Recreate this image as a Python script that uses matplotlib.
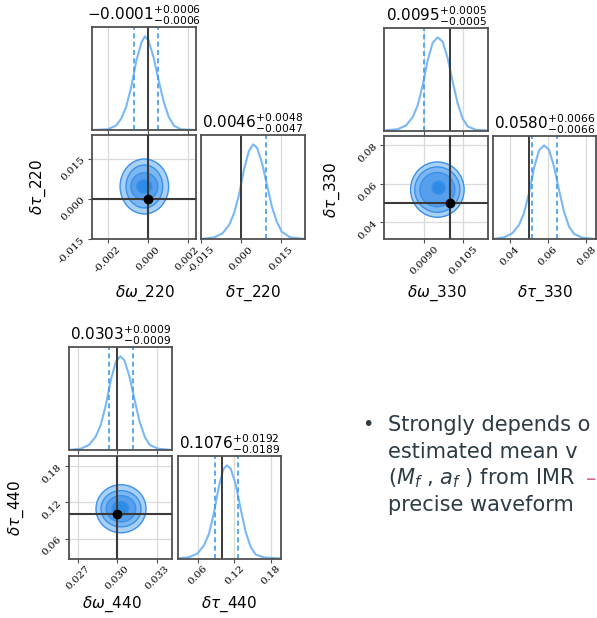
import matplotlib
matplotlib.use("Agg")
import matplotlib.pyplot as plt
from matplotlib.patches import Ellipse

plt.rcParams["axes.unicode_minus"] = False
plt.rcParams["font.family"] = ["DejaVu Sans"]

W, H = 597, 618

# ---- data ----
mode_names = ["220", "330", "440"]

# medians and errors shown in the titles: (median, minus, plus)
omega_stats = [(-0.0001, 0.0006, 0.0006), (0.0095, 0.0005, 0.0005), (0.0303, 0.0009, 0.0009)]
tau_stats = [(0.0046, 0.0047, 0.0048), (0.0580, 0.0066, 0.0066), (0.1076, 0.0189, 0.0192)]
omega_titles = ["-0.0001", "0.0095", "0.0303"]
tau_titles = ["0.0046", "0.0580", "0.1076"]
omega_err_txt = [("0.0006", "0.0006"), ("0.0005", "0.0005"), ("0.0009", "0.0009")]
tau_err_txt = [("0.0048", "0.0047"), ("0.0066", "0.0066"), ("0.0192", "0.0189")]

omega_truth = [0.0, 0.0100, 0.030]
tau_truth = [0.0, 0.050, 0.100]

omega_lims = [(-0.0028, 0.0024), (0.00746, 0.01146), (0.02633, 0.03413)]
tau_lims = [(-0.015, 0.0238), (0.0313, 0.0849), (0.0269, 0.1967)]

omega_ticks = [[-0.002, 0.0, 0.002], [0.0090, 0.0105], [0.027, 0.030, 0.033]]
omega_ticklabels = [["-0.002", "0.000", "0.002"], ["0.0090", "0.0105"], ["0.027", "0.030", "0.033"]]
tau_ticks = [[-0.015, 0.0, 0.015], [0.04, 0.06, 0.08], [0.06, 0.12, 0.18]]
tau_ticklabels = [["-0.015", "0.000", "0.015"], ["0.04", "0.06", "0.08"], ["0.06", "0.12", "0.18"]]

# 1D marginal curves (x, normalised height)
omega_x = [
    [-0.00284, -0.00202, -0.00160, -0.00134, -0.00109, -0.00083, -0.00057, -0.00031,
     -0.00014, 0.00004, 0.00029, 0.00055, 0.00081, 0.00106, 0.00132, 0.00166, 0.00246],
    [0.007463, 0.007976, 0.008296, 0.008553, 0.008745, 0.008937, 0.00913, 0.009322,
     0.009514, 0.009707, 0.009899, 0.010091, 0.010283, 0.010476, 0.010668, 0.010988, 0.011463],
    [0.02633, 0.02721, 0.02785, 0.02836, 0.02874, 0.02913, 0.02951, 0.02990,
     0.03023, 0.03054, 0.03092, 0.03131, 0.03169, 0.03208, 0.03246, 0.0331, 0.03413],
]
omega_y = [
    [0, 0.007, 0.046, 0.118, 0.243, 0.457, 0.743, 0.939, 1.0, 0.957, 0.779, 0.529, 0.296,
     0.136, 0.046, 0.007, 0],
    [0, 0.014, 0.054, 0.144, 0.27, 0.486, 0.755, 0.942, 1.0, 0.953, 0.773, 0.522, 0.288,
     0.126, 0.043, 0.007, 0],
    [0, 0.014, 0.054, 0.143, 0.268, 0.482, 0.75, 0.946, 1.0, 0.957, 0.786, 0.536, 0.304,
     0.143, 0.054, 0.014, 0],
]
tau_x = [
    [-0.015, -0.0101, -0.00703, -0.00456, -0.0027, -0.00085, 0.001, 0.00284, 0.00444,
     0.00592, 0.00777, 0.00962, 0.01147, 0.01332, 0.01517, 0.01826, 0.0238],
    [0.0313, 0.03702, 0.04137, 0.04486, 0.04747, 0.05008, 0.05269, 0.0553, 0.05791,
     0.06052, 0.06313, 0.06574, 0.06836, 0.07097, 0.07358, 0.07793, 0.0849],
    [0.0269, 0.04512, 0.0589, 0.06992, 0.07818, 0.08645, 0.09471, 0.10187, 0.10738,
     0.11399, 0.12226, 0.13052, 0.13879, 0.14705, 0.15532, 0.16909, 0.1967],
]
tau_y = [
    [0, 0.018, 0.06, 0.149, 0.273, 0.468, 0.734, 0.929, 1.0, 0.965, 0.805, 0.574, 0.344,
     0.184, 0.078, 0.018, 0],
    [0, 0.018, 0.061, 0.15, 0.275, 0.489, 0.757, 0.946, 1.0, 0.954, 0.775, 0.525, 0.293,
     0.132, 0.054, 0.014, 0],
    [0, 0.014, 0.053, 0.142, 0.266, 0.496, 0.78, 0.957, 1.0, 0.965, 0.798, 0.532, 0.284,
     0.124, 0.043, 0.011, 0],
]

# 2D contours: centre and half-widths of each level (outer -> inner)
contour_centers = [(-0.00017, 0.0046), (0.0095, 0.057), (0.03028, 0.1093)]
core_centers = [(-0.00017, 0.0046), (0.00955, 0.058), (0.03023, 0.110)]
contour_rx = [[0.00122, 0.00092, 0.00068, 0.00038],
              [0.00103, 0.00087, 0.00067, 0.00025],
              [0.0019, 0.00152, 0.00112, 0.00063]]
contour_ry = [[0.01025, 0.0080, 0.0051, 0.0025],
              [0.0144, 0.0118, 0.0089, 0.0034],
              [0.0398, 0.030, 0.0218, 0.0115]]

# pixel boxes of the three corner plots: top-hist, 2D, right-hist
boxes = [
    [(92, 27, 195.5, 130), (92, 135, 195.5, 239), (201.3, 135, 304.7, 239)],
    [(384.3, 28, 488.3, 130.5), (384.3, 136, 488.3, 239), (493, 136, 595.7, 239)],
    [(69, 347, 171.7, 450), (69, 456, 171.7, 558.5), (178, 456, 280.7, 558.5)],
]
xlabel_pos = [[(145, 293), (253, 293)], [(437, 293), (545, 293)], [(112, 604), (229, 604)]]
ylabel_pos = [(38, 187), (332, 190), (16, 508)]

line_col = "#7ab8f5"
dash_col = "#3d9bf0"
fill_cols = ["#a9d0f6", "#7db7f1", "#559fec", "#2f8be8"]
edge_col = "#3b91ea"
frame_col = "#505050"
truth_col = "#3a3a3a"
grid_col = "#d9d9d9"
tick_font = dict(family="DejaVu Serif", size=7.5)

fig = plt.figure(figsize=(W / 100, H / 100), dpi=100)


def add_ax(box):
    x0, y0, x1, y1 = box
    return fig.add_axes([x0 / W, 1 - y1 / H, (x1 - x0) / W, (y1 - y0) / H])


def style(ax):
    for s in ax.spines.values():
        s.set_color(frame_col)
        s.set_linewidth(1.3)
    ax.tick_params(length=3, width=0.8, color=frame_col, pad=1)
    ax.grid(True, color=grid_col, lw=0.9)
    ax.set_axisbelow(True)


def title_text(val, up, lo):
    return r"$%s^{+%s}_{-%s}$" % (val, up, lo)


for i in range(3):
    ax_top = add_ax(boxes[i][0])
    ax_2d = add_ax(boxes[i][1])
    ax_rt = add_ax(boxes[i][2])
    for ax in (ax_top, ax_2d, ax_rt):
        style(ax)

    # top marginal (omega)
    ax_top.plot(omega_x[i], omega_y[i], color=line_col, lw=1.5)
    med, lo, hi = omega_stats[i]
    for q in (med - lo, med + hi):
        ax_top.axvline(q, color=dash_col, ls="--", lw=1.2, dashes=(3, 2))
    ax_top.axvline(omega_truth[i], color=truth_col, lw=1.4)
    ax_top.set_xlim(omega_lims[i])
    ax_top.set_ylim(0, 1.1)
    ax_top.set_xticks(omega_ticks[i])
    ax_top.set_xticklabels([])
    ax_top.set_yticks([])
    ax_top.grid(axis="y", visible=False)
    ax_top.set_title(title_text(omega_titles[i], *omega_err_txt[i]), fontsize=11, pad=2)

    # right marginal (tau)
    ax_rt.plot(tau_x[i], tau_y[i], color=line_col, lw=1.5)
    med, lo, hi = tau_stats[i]
    for q in (med - lo, med + hi):
        ax_rt.axvline(q, color=dash_col, ls="--", lw=1.2, dashes=(3, 2))
    ax_rt.axvline(tau_truth[i], color=truth_col, lw=1.4)
    ax_rt.set_xlim(tau_lims[i])
    ax_rt.set_ylim(0, 1.1)
    ax_rt.set_xticks(tau_ticks[i])
    ax_rt.set_xticklabels(tau_ticklabels[i], rotation=45, **tick_font)
    ax_rt.set_yticks([])
    ax_rt.grid(axis="y", visible=False)
    ax_rt.set_title(title_text(tau_titles[i], *tau_err_txt[i]), fontsize=11, pad=2)

    # 2D joint
    for k in range(4):
        cx, cy = contour_centers[i] if k < 3 else core_centers[i]
        ax_2d.add_patch(Ellipse((cx, cy), 2 * contour_rx[i][k], 2 * contour_ry[i][k],
                                facecolor=fill_cols[k], edgecolor=edge_col, lw=1.0, zorder=2))
    ax_2d.axvline(omega_truth[i], color=truth_col, lw=1.5, zorder=3)
    ax_2d.axhline(tau_truth[i], color=truth_col, lw=1.5, zorder=3)
    ax_2d.plot(omega_truth[i], tau_truth[i], "o", color="black", ms=6, zorder=4)
    ax_2d.set_xlim(omega_lims[i])
    ax_2d.set_ylim(tau_lims[i])
    ax_2d.set_xticks(omega_ticks[i])
    ax_2d.set_xticklabels(omega_ticklabels[i], rotation=45, **tick_font)
    ax_2d.set_yticks(tau_ticks[i])
    ax_2d.set_yticklabels(tau_ticklabels[i], rotation=45, **tick_font)

    (xo, yo), (xt, yt) = xlabel_pos[i]
    fig.text(xo / W, 1 - yo / H, r"$\delta\omega$_" + mode_names[i], ha="center", va="center", fontsize=11)
    fig.text(xt / W, 1 - yt / H, r"$\delta\tau$_" + mode_names[i], ha="center", va="center", fontsize=11)
    xl, yl = ylabel_pos[i]
    fig.text(xl / W, 1 - yl / H, r"$\delta\tau$_" + mode_names[i], ha="center", va="center",
             rotation=90, fontsize=11)

# bullet text on the right (cut by the right edge, as in the slide)
text_col = "#2d3b44"
bullet_lines = ["Strongly depends o", "estimated mean v",
                r"($M_f$ , $a_f$ ) from IMR", "precise waveform"]
line_y = [425, 452, 478, 505]
fig.text(368 / W, 1 - 425 / H, "\u2022", color=text_col, fontsize=14, ha="center", va="center")
for t, y in zip(bullet_lines, line_y):
    fig.text(388 / W, 1 - y / H, t, color=text_col, fontsize=15, ha="left", va="center")
fig.text(586 / W, 1 - 479 / H, "\u2013", color="#d26a7c", fontsize=15, ha="left", va="center")

fig.savefig("out.png", dpi=100)
